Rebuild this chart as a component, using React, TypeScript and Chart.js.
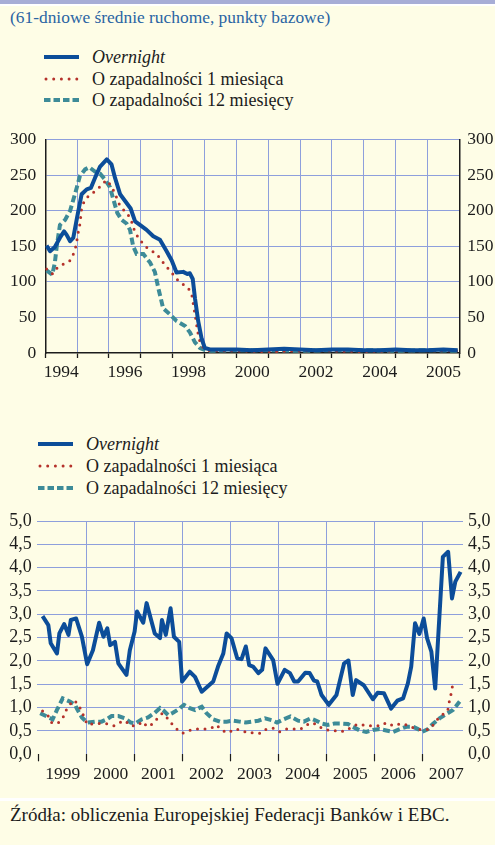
import React, { useEffect, useRef } from 'react';
import { Chart, registerables } from 'chart.js';

Chart.register(...registerables);

// ---------- upper panel: 61-day moving averages, basis points ----------
const topSlotCount = 13;
const topYearLabels = ['1994', '1996', '1998', '2000', '2002', '2004', '2005'];
const topYearSlots = [0, 2, 4, 6, 8, 10, 12];
const topYTicks = [0, 50, 100, 150, 200, 250, 300];

const topOvernightX = [0.04, 0.15, 0.3, 0.46, 0.59, 0.67, 0.78, 0.88, 1.0, 1.14, 1.3, 1.43, 1.56, 1.72, 1.93, 2.08, 2.19, 2.35, 2.5, 2.68, 2.82, 2.97, 3.18, 3.39, 3.6, 3.81, 3.97, 4.12, 4.33, 4.46, 4.54, 4.63, 4.7, 4.8, 4.91, 5.01, 5.17, 5.5, 6.0, 6.5, 7.0, 7.5, 8.0, 8.5, 9.0, 9.5, 10.0, 10.5, 11.0, 11.5, 12.0, 12.5, 12.95];
const topOvernight = [151, 143, 149, 162, 171, 166, 157, 162, 191, 223, 230, 232, 246, 262, 272, 265, 246, 223, 214, 203, 185, 180, 173, 164, 159, 143, 130, 113, 114, 111, 112, 104, 77, 45, 20, 7, 5, 5, 5, 4, 5, 6, 5, 4, 5, 5, 4, 4, 5, 4, 4, 5, 4];

const top1mX = [0.04, 0.23, 0.38, 0.57, 0.78, 0.88, 0.96, 1.04, 1.09, 1.14, 1.22, 1.38, 1.59, 1.77, 1.91, 2.05, 2.17, 2.35, 2.53, 2.68, 2.82, 2.97, 3.13, 3.32, 3.5, 3.65, 3.79, 3.97, 4.12, 4.31, 4.49, 4.6, 4.65, 4.72, 4.78, 4.86, 4.98, 5.17, 6.0, 7.0, 8.0, 9.0, 10.0, 11.0, 12.0, 12.95];
const top1m = [118, 111, 120, 125, 130, 139, 150, 171, 182, 203, 213, 222, 228, 236, 243, 236, 226, 206, 198, 189, 169, 159, 150, 144, 139, 130, 122, 113, 104, 97, 91, 82, 68, 49, 31, 15, 6, 3, 3, 2, 3, 3, 2, 3, 3, 3];

const top12mX = [0.04, 0.22, 0.3, 0.36, 0.46, 0.62, 0.78, 0.93, 1.09, 1.25, 1.38, 1.56, 1.72, 1.87, 2.03, 2.13, 2.26, 2.4, 2.55, 2.66, 2.76, 2.87, 3.08, 3.29, 3.44, 3.55, 3.7, 3.92, 4.12, 4.39, 4.54, 4.7, 4.86, 5.07, 6.0, 7.0, 8.0, 9.0, 10.0, 11.0, 12.0, 12.95];
const top12m = [116, 110, 127, 150, 180, 187, 200, 223, 249, 258, 261, 255, 252, 244, 233, 217, 197, 187, 182, 173, 150, 139, 139, 127, 114, 91, 63, 54, 45, 38, 29, 15, 7, 3, 4, 4, 3, 4, 4, 3, 4, 3];

// ---------- lower panel: percent, by year ----------
const botYears = [1999, 2000, 2001, 2002, 2003, 2004, 2005, 2006, 2007];
const botYTicks = [0, 0.5, 1, 1.5, 2, 2.5, 3, 3.5, 4, 4.5, 5];

const botOvernightX = [1999.08, 1999.2, 1999.25, 1999.38, 1999.43, 1999.53, 1999.62, 1999.67, 1999.78, 1999.9, 2000.01, 2000.13, 2000.26, 2000.35, 2000.43, 2000.49, 2000.59, 2000.66, 2000.83, 2000.9, 2001.0, 2001.05, 2001.18, 2001.25, 2001.42, 2001.53, 2001.57, 2001.65, 2001.75, 2001.82, 2001.93, 2001.99, 2002.15, 2002.26, 2002.4, 2002.64, 2002.74, 2002.85, 2002.92, 2003.02, 2003.14, 2003.23, 2003.32, 2003.39, 2003.47, 2003.58, 2003.66, 2003.73, 2003.89, 2003.98, 2004.13, 2004.24, 2004.33, 2004.41, 2004.56, 2004.65, 2004.74, 2004.81, 2004.9, 2005.05, 2005.21, 2005.37, 2005.46, 2005.55, 2005.62, 2005.78, 2005.97, 2006.07, 2006.2, 2006.35, 2006.48, 2006.6, 2006.7, 2006.77, 2006.85, 2006.94, 2007.03, 2007.1, 2007.19, 2007.27, 2007.43, 2007.54, 2007.62, 2007.69, 2007.8];
const botOvernight = [2.96, 2.77, 2.38, 2.16, 2.59, 2.79, 2.56, 2.88, 2.91, 2.52, 1.93, 2.23, 2.82, 2.52, 2.7, 2.34, 2.41, 1.95, 1.7, 2.23, 2.63, 3.06, 2.82, 3.24, 2.59, 2.49, 2.88, 2.56, 3.13, 2.52, 2.41, 1.56, 1.77, 1.66, 1.34, 1.56, 1.88, 2.16, 2.59, 2.49, 2.06, 2.04, 2.31, 1.91, 1.88, 1.74, 1.81, 2.27, 2.02, 1.51, 1.81, 1.74, 1.56, 1.56, 1.75, 1.74, 1.58, 1.56, 1.27, 1.06, 1.27, 1.95, 2.01, 1.27, 1.59, 1.48, 1.18, 1.32, 1.31, 0.98, 1.15, 1.2, 1.52, 1.88, 2.81, 2.58, 2.91, 2.49, 2.2, 1.41, 4.23, 4.34, 3.34, 3.7, 3.91];

const bot1mX = [1999.08, 1999.2, 1999.27, 1999.39, 1999.5, 1999.55, 1999.64, 1999.74, 1999.83, 1999.9, 2000.01, 2000.17, 2000.4, 2000.57, 2000.69, 2000.8, 2000.92, 2001.04, 2001.17, 2001.26, 2001.39, 2001.49, 2001.58, 2001.67, 2001.77, 2001.88, 2002.0, 2002.14, 2002.29, 2002.44, 2002.59, 2002.71, 2002.81, 2002.95, 2003.09, 2003.23, 2003.35, 2003.49, 2003.63, 2003.75, 2003.89, 2004.03, 2004.17, 2004.31, 2004.46, 2004.58, 2004.72, 2004.85, 2004.99, 2005.13, 2005.28, 2005.42, 2005.56, 2005.7, 2005.83, 2005.99, 2006.13, 2006.25, 2006.4, 2006.53, 2006.6, 2006.72, 2006.88, 2007.02, 2007.16, 2007.25, 2007.35, 2007.46, 2007.53, 2007.56, 2007.6, 2007.63, 2007.66];
const bot1m = [0.93, 0.82, 0.68, 0.66, 0.77, 0.91, 1.06, 1.16, 1.06, 0.91, 0.64, 0.66, 0.66, 0.61, 0.68, 0.72, 0.61, 0.61, 0.7, 0.59, 0.66, 0.79, 0.88, 0.79, 0.66, 0.54, 0.45, 0.51, 0.54, 0.54, 0.56, 0.63, 0.52, 0.46, 0.54, 0.52, 0.46, 0.46, 0.45, 0.54, 0.56, 0.48, 0.54, 0.54, 0.54, 0.63, 0.68, 0.59, 0.52, 0.52, 0.48, 0.51, 0.61, 0.65, 0.61, 0.61, 0.61, 0.68, 0.61, 0.65, 0.66, 0.61, 0.54, 0.52, 0.54, 0.66, 0.79, 0.88, 0.93, 1.11, 1.29, 1.46, 1.58];

const bot12mX = [1999.03, 1999.17, 1999.29, 1999.38, 1999.5, 1999.65, 1999.76, 1999.79, 1999.9, 2000.01, 2000.17, 2000.31, 2000.42, 2000.52, 2000.66, 2000.8, 2000.92, 2001.01, 2001.15, 2001.28, 2001.42, 2001.53, 2001.61, 2001.7, 2001.8, 2001.91, 2002.03, 2002.15, 2002.26, 2002.4, 2002.5, 2002.64, 2002.78, 2002.92, 2003.05, 2003.19, 2003.32, 2003.46, 2003.58, 2003.72, 2003.86, 2003.97, 2004.11, 2004.25, 2004.41, 2004.53, 2004.67, 2004.79, 2004.9, 2005.03, 2005.17, 2005.31, 2005.45, 2005.55, 2005.7, 2005.83, 2005.97, 2006.11, 2006.25, 2006.39, 2006.53, 2006.67, 2006.81, 2006.91, 2007.0, 2007.12, 2007.22, 2007.36, 2007.5, 2007.64, 2007.78];
const bot12m = [0.88, 0.81, 0.75, 0.95, 1.2, 1.13, 1.06, 0.99, 0.79, 0.68, 0.7, 0.7, 0.75, 0.82, 0.82, 0.77, 0.68, 0.66, 0.75, 0.79, 0.89, 0.99, 0.93, 0.84, 0.89, 0.96, 1.06, 0.99, 0.95, 1.02, 0.88, 0.75, 0.7, 0.7, 0.72, 0.7, 0.68, 0.7, 0.72, 0.77, 0.73, 0.68, 0.75, 0.81, 0.72, 0.7, 0.77, 0.72, 0.66, 0.63, 0.66, 0.66, 0.65, 0.59, 0.51, 0.48, 0.52, 0.54, 0.51, 0.48, 0.54, 0.59, 0.59, 0.54, 0.48, 0.54, 0.65, 0.77, 0.86, 0.95, 1.13];

const seriesNames = ['Overnight', 'O zapadalności 1 miesiąca', 'O zapadalności 12 miesięcy'];
const subtitle = '(61-dniowe średnie ruchome, punkty bazowe)';
const sourceNote = 'Źródła: obliczenia Europejskiej Federacji Banków i EBC.';

const BG = '#fefde6';
const GRID = '#8e9fdc';
const BLUE = '#0c4d99';
const RED = '#b5322b';
const TEAL = '#3d8b98';
const INK = '#1c1c1c';
const FONT = "'Liberation Serif', 'Times New Roman', serif";
const W = 495;

const pts = (xs: number[], ys: number[]) => xs.map((x, i) => ({ x, y: ys[i] }));

const lineStyles = [
  { borderColor: BLUE, borderWidth: 4, borderJoinStyle: 'round' as const },
  { borderColor: RED, borderWidth: 3, borderDash: [0, 7.5], borderCapStyle: 'round' as const },
  { borderColor: TEAL, borderWidth: 4, borderDash: [7, 3.5] },
];

const topFont = { family: FONT, size: 17.5 };
const botXFont = { family: FONT, size: 17.5 };
const botYFont = { family: FONT, size: 18 };

function makeDatasets(sets: { x: number[]; y: number[] }[]) {
  return sets.map((s, i) => ({
    label: seriesNames[i],
    data: pts(s.x, s.y),
    pointRadius: 0,
    tension: 0,
    fill: false,
    ...lineStyles[i],
  }));
}

function TopChart() {
  const ref = useRef<HTMLCanvasElement>(null);
  useEffect(() => {
    if (!ref.current) return;
    const chart = new Chart(ref.current, {
      type: 'line',
      data: {
        datasets: makeDatasets([
          { x: topOvernightX, y: topOvernight },
          { x: top1mX, y: top1m },
          { x: top12mX, y: top12m },
        ]) as any,
      },
      options: {
        animation: false,
        responsive: false,
        events: [],
        layout: { padding: { top: 14.3, left: 0, right: 0, bottom: 0 } },
        plugins: { legend: { display: false }, tooltip: { enabled: false } },
        scales: {
          x: {
            type: 'linear',
            position: 'bottom',
            weight: 0,
            min: 0,
            max: topSlotCount,
            afterBuildTicks: (s: any) => {
              s.ticks = Array.from({ length: topSlotCount + 1 }, (_, i) => ({ value: i }));
            },
            afterFit: (s: any) => {
              s.height = 0;
            },
            ticks: { display: false, autoSkip: false },
            grid: { color: GRID, lineWidth: 1, drawTicks: true, tickLength: 5, tickColor: INK, tickWidth: 1.3 },
            border: { display: true, color: INK, width: 1.5 },
          },
          xl: {
            type: 'linear',
            position: 'bottom',
            weight: 1,
            min: 0,
            max: topSlotCount,
            afterBuildTicks: (s: any) => {
              s.ticks = topYearSlots.map((v) => ({ value: v + 0.5 }));
            },
            afterFit: (s: any) => {
              s.height = 37;
            },
            ticks: {
              autoSkip: false,
              maxRotation: 0,
              padding: 9,
              color: INK,
              font: topFont,
              callback: (_v: any, i: number) => topYearLabels[i],
            },
            grid: { display: false, drawTicks: false },
            border: { display: false },
          },
          y: {
            position: 'left',
            min: 0,
            max: 300,
            afterBuildTicks: (s: any) => {
              s.ticks = topYTicks.map((v) => ({ value: v }));
            },
            afterFit: (s: any) => {
              s.width = 45.3;
            },
            ticks: { autoSkip: false, padding: 9, color: INK, font: topFont },
            grid: {
              drawTicks: false,
              lineWidth: 1,
              color: (c: any) => (c.tick && c.tick.value === 0 ? 'rgba(0,0,0,0)' : GRID),
            },
            border: { display: true, color: INK, width: 1.5 },
          },
          y2: {
            position: 'right',
            min: 0,
            max: 300,
            afterBuildTicks: (s: any) => {
              s.ticks = topYTicks.map((v) => ({ value: v }));
            },
            afterFit: (s: any) => {
              s.width = W - 459.3;
            },
            ticks: { autoSkip: false, padding: 8, color: INK, font: topFont },
            grid: { display: false, drawTicks: false },
            border: { display: true, color: INK, width: 1.5 },
          },
        },
      } as any,
    });
    return () => chart.destroy();
  }, []);
  return (
    <canvas
      ref={ref}
      width={W}
      height={270}
      style={{ position: 'absolute', left: 0, top: 120, width: W, height: 270 }}
    />
  );
}

const fmtComma = (v: number) => v.toFixed(1).replace('.', ',');

function BottomChart() {
  const ref = useRef<HTMLCanvasElement>(null);
  useEffect(() => {
    if (!ref.current) return;
    const xMin = 1998.97;
    const xMax = 2007.85;
    const chart = new Chart(ref.current, {
      type: 'line',
      data: {
        datasets: makeDatasets([
          { x: botOvernightX, y: botOvernight },
          { x: bot1mX, y: bot1m },
          { x: bot12mX, y: bot12m },
        ]) as any,
      },
      options: {
        animation: false,
        responsive: false,
        events: [],
        layout: { padding: { top: 21, left: 0, right: 0, bottom: 0 } },
        plugins: { legend: { display: false }, tooltip: { enabled: false } },
        scales: {
          x: {
            type: 'linear',
            position: 'bottom',
            weight: 0,
            min: xMin,
            max: xMax,
            afterBuildTicks: (s: any) => {
              s.ticks = botYears.map((v) => ({ value: v }));
            },
            afterFit: (s: any) => {
              s.height = 0;
            },
            ticks: { display: false, autoSkip: false },
            grid: {
              lineWidth: 1,
              drawTicks: true,
              tickLength: 7,
              tickColor: INK,
              tickWidth: 1.2,
              color: (c: any) => (c.tick && c.tick.value === botYears[0] ? 'rgba(0,0,0,0)' : GRID),
            },
            border: { display: false },
          },
          xl: {
            type: 'linear',
            position: 'bottom',
            weight: 1,
            min: xMin,
            max: xMax,
            afterBuildTicks: (s: any) => {
              s.ticks = botYears.map((v) => ({ value: v + 0.5 }));
            },
            afterFit: (s: any) => {
              s.height = 35.7;
            },
            ticks: {
              autoSkip: false,
              maxRotation: 0,
              padding: 10,
              color: INK,
              font: botXFont,
              callback: (_v: any, i: number) => String(botYears[i]),
            },
            grid: { display: false, drawTicks: false },
            border: { display: false },
          },
          y: {
            position: 'left',
            min: 0,
            max: 5,
            afterBuildTicks: (s: any) => {
              s.ticks = botYTicks.map((v) => ({ value: v }));
            },
            afterFit: (s: any) => {
              s.width = 37.3;
            },
            ticks: {
              autoSkip: false,
              padding: 5.5,
              color: INK,
              font: botYFont,
              callback: (v: any) => fmtComma(Number(v)),
            },
            grid: {
              drawTicks: false,
              lineWidth: 1,
              color: (c: any) => (c.tick && c.tick.value === 0 ? 'rgba(0,0,0,0)' : GRID),
            },
            border: { display: false },
          },
          y2: {
            position: 'right',
            min: 0,
            max: 5,
            afterBuildTicks: (s: any) => {
              s.ticks = botYTicks.map((v) => ({ value: v }));
            },
            afterFit: (s: any) => {
              s.width = W - 463;
            },
            ticks: {
              autoSkip: false,
              padding: 5,
              color: INK,
              font: botYFont,
              callback: (v: any) => fmtComma(Number(v)),
            },
            grid: { display: false, drawTicks: false },
            border: { display: false },
          },
        },
      } as any,
    });
    return () => chart.destroy();
  }, []);
  return (
    <canvas
      ref={ref}
      width={W}
      height={290}
      style={{ position: 'absolute', left: 0, top: 500, width: W, height: 290 }}
    />
  );
}

function Swatch({ kind }: { kind: number }) {
  const common = { x1: 0, y1: 4, x2: 35, y2: 4 };
  return (
    <svg width={35} height={8} style={{ display: 'block' }}>
      {kind === 0 && <line {...common} stroke={BLUE} strokeWidth={4} />}
      {kind === 1 && (
        <line x1={2} y1={4} x2={35} y2={4} stroke={RED} strokeWidth={3} strokeDasharray="0 7.7" strokeLinecap="round" />
      )}
      {kind === 2 && <line {...common} stroke={TEAL} strokeWidth={4} strokeDasharray="6.5 3" />}
    </svg>
  );
}

function Legend({ left, textLeft, rows }: { left: number; textLeft: number; rows: number[] }) {
  return (
    <>
      {seriesNames.map((name, i) => (
        <div
          key={name}
          style={{ position: 'absolute', left, top: rows[i] - 12, height: 24, display: 'flex', alignItems: 'center' }}
        >
          <Swatch kind={i} />
          <span
            style={{
              marginLeft: textLeft - left - 35,
              fontFamily: FONT,
              fontSize: 18,
              color: INK,
              fontStyle: i === 0 ? 'italic' : 'normal',
              whiteSpace: 'nowrap',
              lineHeight: '24px',
            }}
          >
            {name}
          </span>
        </div>
      ))}
    </>
  );
}

export default function App() {
  return (
    <div
      style={{
        position: 'absolute',
        left: 0,
        top: 0,
        width: W,
        height: 845,
        background: BG,
        overflow: 'hidden',
        fontFamily: FONT,
      }}
    >
      <div style={{ position: 'absolute', left: 0, top: 0, width: W, height: 4, background: '#a7add6' }} />
      <div style={{ position: 'absolute', left: 0, top: 4, width: W, height: 1.5, background: '#ffffff' }} />
      <div
        style={{
          position: 'absolute',
          left: 10,
          top: 5,
          fontSize: 17.4,
          lineHeight: '24px',
          color: '#2a64a3',
          whiteSpace: 'nowrap',
        }}
      >
        {subtitle}
      </div>
      <Legend left={44} textLeft={92} rows={[57, 78.5, 99.5]} />
      <TopChart />
      <Legend left={38} textLeft={86} rows={[444, 466, 488]} />
      <BottomChart />
      <div style={{ position: 'absolute', left: 0, top: 798, width: W, height: 2.5, background: '#ffffff' }} />
      <div
        style={{
          position: 'absolute',
          left: 10,
          top: 803,
          fontSize: 19,
          lineHeight: '24px',
          color: INK,
          whiteSpace: 'nowrap',
        }}
      >
        {sourceNote}
      </div>
    </div>
  );
}
